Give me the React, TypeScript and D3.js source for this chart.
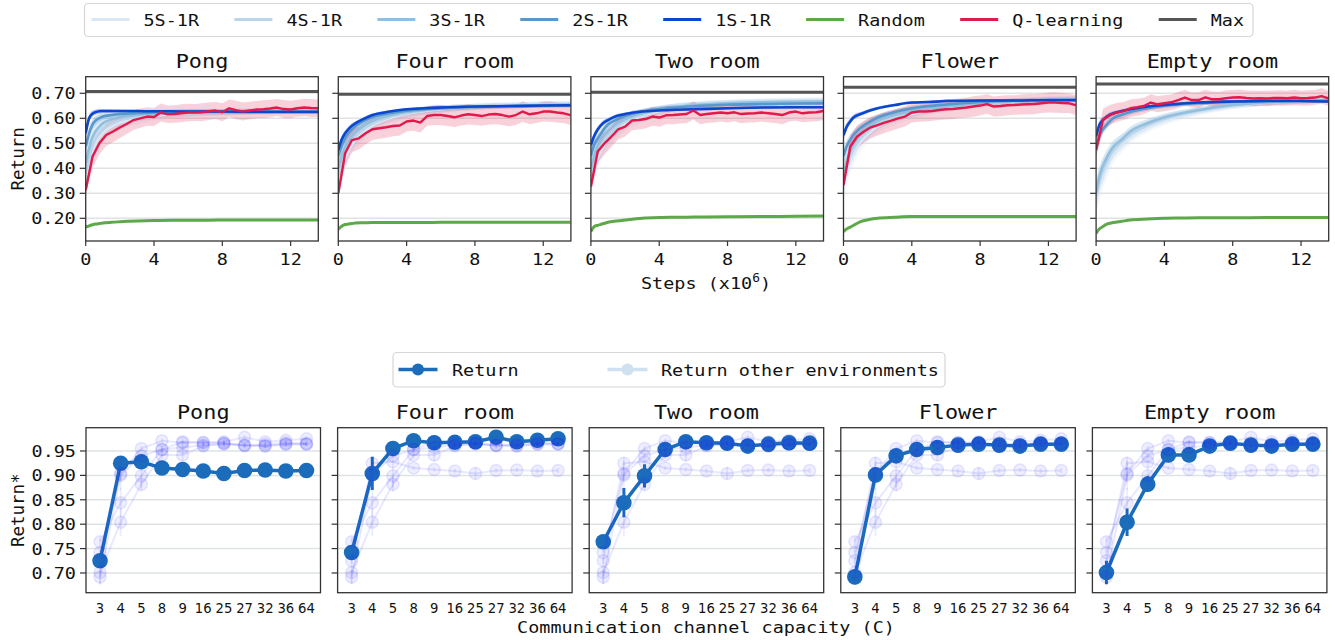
import React from 'react';
import * as d3 from 'd3';

// ---------------- DATA ----------------
const ENVS = ['Pong', 'Four room', 'Two room', 'Flower', 'Empty room'];
const SERIES_NAMES = ['5S-1R', '4S-1R', '3S-1R', '2S-1R', '1S-1R', 'Random', 'Q-learning', 'Max'];

const STEPS = [0, 0.2, 0.4, 0.6, 0.8, 1, 1.5, 2, 3, 4, 5, 6, 8, 10, 12, 13.6];
const Q_STEPS = [0, 0.4, 0.8, 1.2, 1.6, 2.0, 2.4, 2.8, 3.2, 3.6, 4.0, 4.4, 4.8, 5.2, 5.6, 6.0, 6.4, 6.8, 7.2, 7.6, 8.0, 8.4, 8.8, 9.2, 9.6, 10.0, 10.4, 10.8, 11.2, 11.6, 12.0, 12.4, 12.8, 13.2, 13.6];
const X_TICKS = [0, 4, 8, 12];
const Y_TICKS_TOP = [0.2, 0.3, 0.4, 0.5, 0.6, 0.7];
const Y_TICKS_BOTTOM = [0.7, 0.75, 0.8, 0.85, 0.9, 0.95];

// rows: Pong, Four room, Two room, Flower, Empty room
const RET_1S = [
  [0.54, 0.60, 0.618, 0.625, 0.628, 0.629, 0.629, 0.629, 0.629, 0.628, 0.628, 0.627, 0.627, 0.626, 0.626, 0.626],
  [0.473, 0.515, 0.54, 0.557, 0.57, 0.58, 0.598, 0.613, 0.627, 0.636, 0.64, 0.643, 0.647, 0.649, 0.651, 0.652],
  [0.493, 0.53, 0.555, 0.573, 0.585, 0.593, 0.609, 0.617, 0.627, 0.631, 0.634, 0.636, 0.64, 0.643, 0.644, 0.644],
  [0.533, 0.568, 0.588, 0.604, 0.612, 0.617, 0.63, 0.64, 0.653, 0.663, 0.665, 0.669, 0.671, 0.671, 0.673, 0.673],
  [0.527, 0.575, 0.593, 0.605, 0.614, 0.62, 0.629, 0.636, 0.647, 0.653, 0.659, 0.663, 0.667, 0.669, 0.669, 0.667],
];
const RET_2S = [
  [0.487, 0.54, 0.575, 0.592, 0.601, 0.607, 0.613, 0.617, 0.621, 0.623, 0.624, 0.625, 0.625, 0.625, 0.625, 0.625],
  [0.45, 0.49, 0.52, 0.54, 0.556, 0.568, 0.59, 0.605, 0.62, 0.63, 0.636, 0.64, 0.645, 0.648, 0.65, 0.651],
  [0.45, 0.495, 0.52, 0.54, 0.56, 0.575, 0.595, 0.61, 0.627, 0.637, 0.643, 0.648, 0.654, 0.657, 0.659, 0.66],
  [0.45, 0.49, 0.515, 0.535, 0.55, 0.562, 0.585, 0.603, 0.625, 0.64, 0.649, 0.655, 0.665, 0.67, 0.672, 0.672],
  [0.48, 0.53, 0.556, 0.573, 0.588, 0.60, 0.614, 0.625, 0.64, 0.65, 0.656, 0.66, 0.667, 0.669, 0.67, 0.67],
];
const RET_3S = [
  [0.42, 0.48, 0.525, 0.55, 0.567, 0.58, 0.595, 0.604, 0.614, 0.619, 0.622, 0.624, 0.626, 0.627, 0.627, 0.627],
  [0.40, 0.45, 0.485, 0.51, 0.53, 0.545, 0.572, 0.59, 0.612, 0.625, 0.633, 0.639, 0.646, 0.65, 0.653, 0.655],
  [0.40, 0.45, 0.49, 0.515, 0.535, 0.55, 0.578, 0.597, 0.62, 0.635, 0.645, 0.652, 0.66, 0.664, 0.666, 0.667],
  [0.38, 0.43, 0.47, 0.50, 0.52, 0.54, 0.568, 0.59, 0.613, 0.627, 0.638, 0.646, 0.66, 0.668, 0.673, 0.675],
  [0.30, 0.37, 0.41, 0.44, 0.465, 0.485, 0.515, 0.547, 0.58, 0.604, 0.62, 0.633, 0.653, 0.663, 0.669, 0.673],
];
const RET_4S = [
  [0.38, 0.44, 0.49, 0.52, 0.54, 0.556, 0.578, 0.592, 0.606, 0.614, 0.619, 0.622, 0.625, 0.627, 0.628, 0.628],
  [0.37, 0.42, 0.46, 0.49, 0.51, 0.527, 0.558, 0.58, 0.605, 0.62, 0.63, 0.637, 0.646, 0.651, 0.655, 0.657],
  [0.37, 0.42, 0.46, 0.49, 0.513, 0.53, 0.563, 0.587, 0.614, 0.632, 0.644, 0.652, 0.661, 0.666, 0.668, 0.669],
  [0.36, 0.41, 0.45, 0.48, 0.50, 0.52, 0.553, 0.578, 0.605, 0.622, 0.634, 0.644, 0.659, 0.668, 0.674, 0.676],
  [0.29, 0.35, 0.39, 0.42, 0.45, 0.47, 0.505, 0.535, 0.572, 0.598, 0.616, 0.63, 0.651, 0.663, 0.67, 0.674],
];
const RET_5S = [
  [0.35, 0.42, 0.47, 0.50, 0.523, 0.54, 0.566, 0.583, 0.60, 0.61, 0.616, 0.62, 0.624, 0.627, 0.628, 0.629],
  [0.35, 0.40, 0.44, 0.47, 0.495, 0.513, 0.547, 0.572, 0.60, 0.617, 0.628, 0.636, 0.646, 0.652, 0.656, 0.658],
  [0.35, 0.40, 0.44, 0.47, 0.495, 0.515, 0.55, 0.577, 0.608, 0.628, 0.642, 0.651, 0.661, 0.667, 0.67, 0.671],
  [0.34, 0.39, 0.43, 0.46, 0.485, 0.505, 0.54, 0.568, 0.598, 0.617, 0.631, 0.642, 0.658, 0.668, 0.674, 0.677],
  [0.28, 0.33, 0.37, 0.40, 0.43, 0.455, 0.495, 0.525, 0.565, 0.592, 0.612, 0.627, 0.649, 0.662, 0.67, 0.675],
];
const RET_RANDOM = [
  [0.165, 0.170, 0.174, 0.177, 0.179, 0.181, 0.184, 0.186, 0.189, 0.191, 0.192, 0.192, 0.193, 0.193, 0.193, 0.193],
  [0.156, 0.168, 0.175, 0.177, 0.179, 0.181, 0.182, 0.183, 0.183, 0.183, 0.183, 0.184, 0.184, 0.184, 0.184, 0.184],
  [0.147, 0.167, 0.172, 0.176, 0.180, 0.184, 0.189, 0.193, 0.200, 0.203, 0.204, 0.205, 0.206, 0.207, 0.208, 0.209],
  [0.147, 0.158, 0.165, 0.172, 0.180, 0.187, 0.195, 0.200, 0.204, 0.207, 0.207, 0.207, 0.207, 0.207, 0.207, 0.207],
  [0.140, 0.158, 0.167, 0.176, 0.180, 0.183, 0.188, 0.193, 0.197, 0.200, 0.201, 0.202, 0.202, 0.203, 0.203, 0.203],
];
// half-width of the shaded band for the S-R series (same layout as STEPS)
const SPREAD_1S = [0.02, 0.015, 0.012, 0.01, 0.01, 0.008, 0.007, 0.006, 0.005, 0.005, 0.005, 0.005, 0.005, 0.005, 0.005, 0.005];
const SPREAD_2S = [0.03, 0.025, 0.02, 0.018, 0.016, 0.015, 0.013, 0.012, 0.01, 0.01, 0.009, 0.009, 0.008, 0.008, 0.008, 0.008];
const SPREAD_3S = [0.05, 0.04, 0.035, 0.03, 0.028, 0.026, 0.022, 0.02, 0.017, 0.015, 0.013, 0.012, 0.011, 0.01, 0.01, 0.01];
const SPREAD_4S = [0.06, 0.05, 0.045, 0.04, 0.035, 0.032, 0.028, 0.025, 0.02, 0.018, 0.016, 0.014, 0.012, 0.012, 0.012, 0.012];
const SPREAD_5S = [0.07, 0.06, 0.05, 0.045, 0.04, 0.036, 0.032, 0.028, 0.024, 0.02, 0.018, 0.016, 0.014, 0.013, 0.013, 0.013];

const RET_Q = [
  [0.313, 0.447, 0.50, 0.533, 0.547, 0.563, 0.577, 0.593, 0.60, 0.607, 0.605, 0.623, 0.616, 0.617, 0.62, 0.623, 0.623, 0.624, 0.628, 0.631, 0.624, 0.64, 0.633, 0.627, 0.631, 0.635, 0.636, 0.639, 0.643, 0.637, 0.635, 0.64, 0.643, 0.641, 0.64],
  [0.30, 0.46, 0.513, 0.52, 0.54, 0.556, 0.56, 0.564, 0.569, 0.571, 0.587, 0.591, 0.583, 0.609, 0.613, 0.613, 0.609, 0.604, 0.611, 0.616, 0.613, 0.609, 0.615, 0.617, 0.613, 0.607, 0.613, 0.627, 0.616, 0.62, 0.627, 0.627, 0.623, 0.62, 0.613],
  [0.327, 0.467, 0.50, 0.527, 0.556, 0.567, 0.591, 0.593, 0.597, 0.607, 0.603, 0.612, 0.613, 0.615, 0.617, 0.631, 0.613, 0.617, 0.62, 0.623, 0.62, 0.624, 0.617, 0.619, 0.62, 0.623, 0.62, 0.617, 0.613, 0.623, 0.627, 0.62, 0.623, 0.624, 0.629],
  [0.333, 0.487, 0.527, 0.547, 0.564, 0.573, 0.583, 0.591, 0.60, 0.607, 0.623, 0.627, 0.627, 0.629, 0.633, 0.636, 0.637, 0.64, 0.643, 0.647, 0.651, 0.657, 0.647, 0.649, 0.652, 0.653, 0.655, 0.656, 0.657, 0.66, 0.663, 0.663, 0.661, 0.66, 0.653],
  [0.473, 0.593, 0.613, 0.623, 0.629, 0.64, 0.644, 0.649, 0.663, 0.656, 0.66, 0.664, 0.673, 0.683, 0.673, 0.673, 0.684, 0.676, 0.676, 0.68, 0.683, 0.684, 0.681, 0.679, 0.68, 0.679, 0.681, 0.681, 0.68, 0.683, 0.68, 0.681, 0.683, 0.689, 0.68],
];
const SPREAD_Q = [
  [0.02, 0.045, 0.045, 0.044, 0.043, 0.042, 0.04, 0.04, 0.038, 0.037, 0.036, 0.036, 0.035, 0.035, 0.036, 0.035, 0.034, 0.036, 0.035, 0.034, 0.036, 0.035, 0.037, 0.036, 0.035, 0.034, 0.036, 0.035, 0.034, 0.036, 0.035, 0.034, 0.035, 0.036, 0.035],
  [0.02, 0.05, 0.048, 0.045, 0.044, 0.043, 0.042, 0.042, 0.041, 0.04, 0.04, 0.041, 0.04, 0.039, 0.04, 0.041, 0.04, 0.039, 0.04, 0.041, 0.04, 0.039, 0.04, 0.041, 0.04, 0.039, 0.04, 0.041, 0.04, 0.039, 0.04, 0.041, 0.04, 0.039, 0.04],
  [0.02, 0.045, 0.044, 0.042, 0.041, 0.04, 0.039, 0.038, 0.038, 0.037, 0.037, 0.036, 0.037, 0.036, 0.037, 0.036, 0.037, 0.036, 0.037, 0.036, 0.037, 0.036, 0.037, 0.036, 0.037, 0.036, 0.037, 0.036, 0.037, 0.036, 0.037, 0.036, 0.037, 0.036, 0.037],
  [0.02, 0.045, 0.045, 0.044, 0.043, 0.042, 0.042, 0.041, 0.041, 0.04, 0.04, 0.041, 0.04, 0.039, 0.04, 0.041, 0.04, 0.039, 0.04, 0.041, 0.04, 0.039, 0.04, 0.041, 0.04, 0.039, 0.04, 0.041, 0.04, 0.039, 0.04, 0.041, 0.04, 0.039, 0.04],
  [0.03, 0.045, 0.04, 0.038, 0.036, 0.035, 0.034, 0.033, 0.033, 0.032, 0.032, 0.031, 0.032, 0.031, 0.03, 0.031, 0.03, 0.031, 0.03, 0.031, 0.03, 0.031, 0.03, 0.031, 0.03, 0.031, 0.03, 0.031, 0.03, 0.031, 0.03, 0.031, 0.03, 0.031, 0.03],
];
const MAX_RETURN = [0.707, 0.696, 0.704, 0.724, 0.737];

// bottom row
const CAPACITY = ['3', '4', '5', '8', '9', '16', '25', '27', '32', '36', '64'];
const RETURN_STAR = [
  [0.725, 0.925, 0.928, 0.915, 0.912, 0.909, 0.904, 0.910, 0.911, 0.909, 0.910],
  [0.742, 0.904, 0.955, 0.971, 0.967, 0.968, 0.969, 0.978, 0.969, 0.972, 0.975],
  [0.764, 0.844, 0.899, 0.953, 0.969, 0.967, 0.966, 0.960, 0.964, 0.967, 0.966],
  [0.692, 0.901, 0.940, 0.953, 0.957, 0.962, 0.964, 0.962, 0.960, 0.964, 0.964],
  [0.701, 0.804, 0.882, 0.942, 0.942, 0.960, 0.966, 0.962, 0.960, 0.964, 0.964],
];
const RETURN_STAR_ERR = [
  [0.006, 0.004, 0.004, 0.004, 0.004, 0.005, 0.013, 0.004, 0.004, 0.005, 0.005],
  [0.005, 0.034, 0.005, 0.004, 0.004, 0.004, 0.004, 0.004, 0.004, 0.004, 0.004],
  [0.010, 0.030, 0.024, 0.005, 0.004, 0.004, 0.006, 0.004, 0.004, 0.004, 0.004],
  [0.015, 0.015, 0.006, 0.005, 0.005, 0.004, 0.004, 0.004, 0.004, 0.004, 0.004],
  [0.024, 0.028, 0.016, 0.008, 0.013, 0.007, 0.004, 0.004, 0.004, 0.004, 0.004],
];

// ---------------- STYLE ----------------
const MONO = '"DejaVu Sans Mono", monospace';
const SANS = '"DejaVu Sans", sans-serif';
const SX = 1.12;
const C5 = '#d9e7f4';
const C4 = '#bad4ea';
const C3 = '#92bfdd';
const C2 = '#5898cd';
const C1 = '#0b46cf';
const C_RAND = '#5da848';
const C_Q = '#e2194b';
const C_MAX = '#555555';
const C_RET = '#1c6cbc';
const GRID = '#dfe3e3';
const SPINE = '#333333';

const TOP = { left0: 85.7, step: 252.6, w: 232.6, y0: 76.7, y1: 241 };
const BOT = { left0: 86, step: 251.6, w: 234.5, y0: 427.7, y1: 592.7 };

function T(props: any) {
  const { x, y, size, anchor = 'middle', family = MONO, sx = SX, rotate = 0, fill = '#111', children } = props;
  const tr = rotate ? `translate(${x},${y}) rotate(${rotate})` : `translate(${x},${y}) scale(${sx},1)`;
  return (
    <text transform={tr} fontSize={size} fontFamily={family} textAnchor={anchor} fill={fill}>
      {children}
    </text>
  );
}

function TopPanel({ idx }: { idx: number }) {
  const left = TOP.left0 + idx * TOP.step;
  const x = d3.scaleLinear().domain([0, 13.62]).range([left, left + TOP.w]);
  const y = d3.scaleLinear().domain([0.1092, 0.7664]).range([TOP.y1, TOP.y0]);
  const sSeries = [
    { v: RET_5S[idx], s: SPREAD_5S, c: C5 },
    { v: RET_4S[idx], s: SPREAD_4S, c: C4 },
    { v: RET_3S[idx], s: SPREAD_3S, c: C3 },
    { v: RET_2S[idx], s: SPREAD_2S, c: C2 },
    { v: RET_1S[idx], s: SPREAD_1S, c: C1 },
  ];
  const line = d3.line<number>().x((_, i) => x(STEPS[i])).y((d) => y(d)).curve(d3.curveMonotoneX);
  const qLine = d3.line<number>().x((_, i) => x(Q_STEPS[i])).y((d) => y(d));
  const clipId = `tclip${idx}`;
  return (
    <g>
      <defs>
        <clipPath id={clipId}>
          <rect x={left} y={TOP.y0} width={TOP.w} height={TOP.y1 - TOP.y0} />
        </clipPath>
      </defs>
      {Y_TICKS_TOP.map((t) => (
        <line key={t} x1={left} x2={left + TOP.w} y1={y(t)} y2={y(t)} stroke={GRID} strokeWidth={1.5} />
      ))}
      <g clipPath={`url(#${clipId})`}>
        {sSeries.map((s, k) => {
          const area = d3
            .area<number>()
            .x((_, i) => x(STEPS[i]))
            .y0((d, i) => y(d - s.s[i]))
            .y1((d, i) => y(d + s.s[i]))
            .curve(d3.curveMonotoneX);
          return <path key={'a' + k} d={area(s.v) || ''} fill={s.c} opacity={0.3} />;
        })}
        {(() => {
          const qa = d3
            .area<number>()
            .x((_, i) => x(Q_STEPS[i]))
            .y0((d, i) => y(d - SPREAD_Q[idx][i]))
            .y1((d, i) => y(d + SPREAD_Q[idx][i]));
          return <path d={qa(RET_Q[idx]) || ''} fill={C_Q} opacity={0.2} />;
        })()}
        {sSeries.map((s, k) => (
          <path key={'l' + k} d={line(s.v) || ''} fill="none" stroke={s.c} strokeWidth={2.6} />
        ))}
        <path d={line(RET_RANDOM[idx]) || ''} fill="none" stroke={C_RAND} strokeWidth={3} />
        <path d={qLine(RET_Q[idx]) || ''} fill="none" stroke={C_Q} strokeWidth={2.4} strokeLinejoin="round" />
        <line x1={left} x2={left + TOP.w} y1={y(MAX_RETURN[idx])} y2={y(MAX_RETURN[idx])} stroke={C_MAX} strokeWidth={3} />
      </g>
      <rect x={left} y={TOP.y0} width={TOP.w} height={TOP.y1 - TOP.y0} fill="none" stroke={SPINE} strokeWidth={1.3} />
      {Y_TICKS_TOP.map((t) => (
        <g key={'yt' + t}>
          <line x1={left - 6} x2={left} y1={y(t)} y2={y(t)} stroke={SPINE} strokeWidth={1.2} />
          {idx === 0 && (
            <T x={left - 10} y={y(t) + 6} size={16.5} anchor="end">
              {t.toFixed(2)}
            </T>
          )}
        </g>
      ))}
      {X_TICKS.map((t) => (
        <g key={'xt' + t}>
          <line x1={x(t)} x2={x(t)} y1={TOP.y1} y2={TOP.y1 + 5} stroke={SPINE} strokeWidth={1.2} />
          <T x={x(t)} y={TOP.y1 + 24} size={16.5}>
            {String(t)}
          </T>
        </g>
      ))}
      <T x={left + TOP.w / 2} y={68} size={19.5}>
        {ENVS[idx]}
      </T>
    </g>
  );
}

function BottomPanel({ idx }: { idx: number }) {
  const left = BOT.left0 + idx * BOT.step;
  const x = d3.scaleLinear().domain([-0.68, 10.68]).range([left, left + BOT.w]);
  const y = d3.scaleLinear().domain([0.6596, 0.9977]).range([BOT.y1, BOT.y0]);
  const line = d3.line<number>().x((_, i) => x(i)).y((d) => y(d));
  const others = ENVS.map((_, k) => k).filter((k) => k !== idx);
  const clipId = `bclip${idx}`;
  return (
    <g>
      <defs>
        <clipPath id={clipId}>
          <rect x={left} y={BOT.y0} width={BOT.w} height={BOT.y1 - BOT.y0} />
        </clipPath>
      </defs>
      {Y_TICKS_BOTTOM.map((t) => (
        <line key={t} x1={left} x2={left + BOT.w} y1={y(t)} y2={y(t)} stroke={GRID} strokeWidth={1.5} />
      ))}
      <g clipPath={`url(#${clipId})`}>
        <path d={line(RETURN_STAR[idx]) || ''} fill="none" stroke={C_RET} strokeWidth={3.5} />
        {RETURN_STAR[idx].map((v, i) => (
          <line
            key={'e' + i}
            x1={x(i)}
            x2={x(i)}
            y1={y(v - RETURN_STAR_ERR[idx][i])}
            y2={y(v + RETURN_STAR_ERR[idx][i])}
            stroke={C_RET}
            strokeWidth={3}
          />
        ))}
        {RETURN_STAR[idx].map((v, i) => (
          <circle key={'m' + i} cx={x(i)} cy={y(v)} r={7.8} fill={C_RET} />
        ))}
        {others.map((k) => (
          <g key={'o' + k}>
            <path d={line(RETURN_STAR[k]) || ''} fill="none" stroke="#2a2aff" strokeOpacity={0.11} strokeWidth={2} />
            {RETURN_STAR[k].map((v, i) => (
              <line
                key={'oe' + i}
                x1={x(i)}
                x2={x(i)}
                y1={y(v - RETURN_STAR_ERR[k][i])}
                y2={y(v + RETURN_STAR_ERR[k][i])}
                stroke="#2a2aff"
                strokeOpacity={0.09}
                strokeWidth={1.8}
              />
            ))}
            {RETURN_STAR[k].map((v, i) => (
              <circle
                key={'om' + i}
                cx={x(i)}
                cy={y(v)}
                r={6}
                fill="#2a2aff"
                fillOpacity={0.08}
                stroke="#2a2aff"
                strokeOpacity={0.1}
                strokeWidth={1.5}
              />
            ))}
          </g>
        ))}
      </g>
      <rect x={left} y={BOT.y0} width={BOT.w} height={BOT.y1 - BOT.y0} fill="none" stroke={SPINE} strokeWidth={1.3} />
      {Y_TICKS_BOTTOM.map((t) => (
        <g key={'yt' + t}>
          <line x1={left - 6} x2={left} y1={y(t)} y2={y(t)} stroke={SPINE} strokeWidth={1.2} />
          {idx === 0 && (
            <T x={left - 10} y={y(t) + 6} size={16.5} anchor="end">
              {t.toFixed(2)}
            </T>
          )}
        </g>
      ))}
      {CAPACITY.map((c, i) => (
        <T key={'xt' + c} x={x(i)} y={613} size={13.2} family={SANS} sx={1}>
          {c}
        </T>
      ))}
      <T x={left + BOT.w / 2} y={418.5} size={19.5}>
        {ENVS[idx]}
      </T>
    </g>
  );
}

function TopLegend() {
  const colors = [C5, C4, C3, C2, C1, C_RAND, C_Q, C_MAX];
  const charW = 0.602 * 16.5 * SX;
  let cx = 91.5;
  const items = SERIES_NAMES.map((n, i) => {
    const item = { n, c: colors[i], x: cx };
    cx += 38 + 14 + n.length * charW + 35.3;
    return item;
  });
  return (
    <g>
      <rect x={84.5} y={3.5} width={1168.5} height={33} rx={4} fill="#fff" stroke="#d6d6d6" strokeWidth={1.2} />
      {items.map((it) => (
        <g key={it.n}>
          <line x1={it.x} x2={it.x + 38} y1={19.5} y2={19.5} stroke={it.c} strokeWidth={3} />
          <T x={it.x + 52} y={25.5} size={16.5} anchor="start">
            {it.n}
          </T>
        </g>
      ))}
    </g>
  );
}

function BottomLegend() {
  return (
    <g>
      <rect x={393} y={352.5} width={552} height={34.5} rx={4} fill="#fff" stroke="#d6d6d6" strokeWidth={1.2} />
      <line x1={398.5} x2={437.5} y1={369.5} y2={369.5} stroke={C_RET} strokeWidth={3.5} />
      <circle cx={418} cy={369.5} r={6} fill={C_RET} />
      <T x={452} y={375.5} size={16.5} anchor="start">
        Return
      </T>
      <line x1={607.5} x2={647.5} y1={369.5} y2={369.5} stroke="#cfe1f1" strokeWidth={3.5} />
      <circle cx={627.5} cy={369.5} r={6} fill="#cfe1f1" />
      <T x={661} y={375.5} size={16.5} anchor="start">
        Return other environments
      </T>
    </g>
  );
}

export default function App() {
  return (
    <svg width={1335} height={640} style={{ position: 'absolute', left: 0, top: 0, display: 'block', background: '#fff' }}>
      <rect x={0} y={0} width={1335} height={640} fill="#fff" />
      <TopLegend />
      {ENVS.map((_, i) => (
        <TopPanel key={'t' + i} idx={i} />
      ))}
      {ENVS.map((_, i) => (
        <BottomPanel key={'b' + i} idx={i} />
      ))}
      <BottomLegend />
      <T x={24} y={(TOP.y0 + TOP.y1) / 2} size={17.5} rotate={-90}>
        Return
      </T>
      <T x={24} y={(BOT.y0 + BOT.y1) / 2} size={17.5} rotate={-90}>
        Return*
      </T>
      <text transform={`translate(706,289) scale(${SX},1)`} fontSize={16.5} fontFamily={MONO} textAnchor="middle" fill="#111">
        Steps (x10<tspan dy={-7} fontSize={11.5}>6</tspan>
        <tspan dy={7}>)</tspan>
      </text>
      <T x={706} y={633} size={16.5}>
        Communication channel capacity (C)
      </T>
    </svg>
  );
}
